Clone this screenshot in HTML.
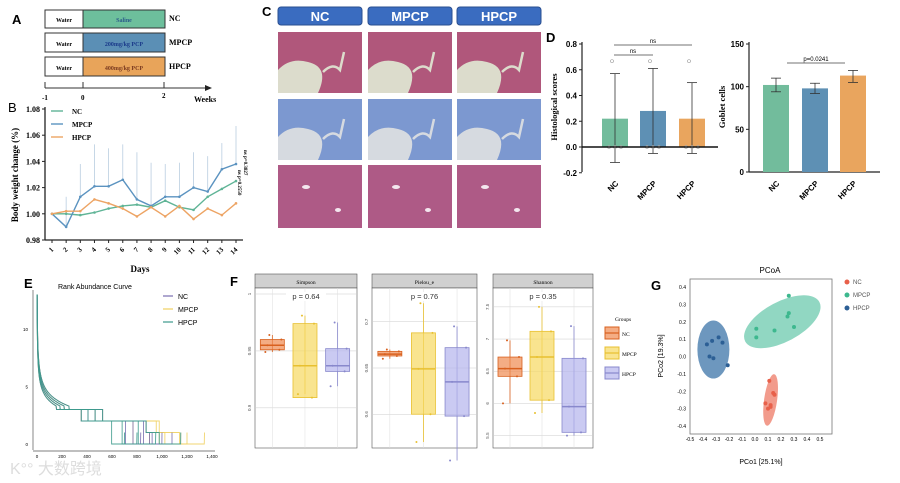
<!DOCTYPE html>
<html><head><meta charset="utf-8">
<style>
html,body{margin:0;padding:0;background:#fff;}
svg{display:block;font-family:"Liberation Sans",sans-serif;}
.serif{font-family:"Liberation Serif",serif;font-weight:bold;}
</style></head>
<body>
<svg id="fig" width="900" height="483" viewBox="0 0 900 483" xmlns="http://www.w3.org/2000/svg">
<g class="serif" font-size="8">
<text x="12" y="24" font-size="13" font-family="Liberation Sans">A</text>
<rect x="45" y="10" width="38" height="18" fill="#fff" stroke="#333"/>
<rect x="83" y="10" width="82" height="18" fill="#6dbf9c" stroke="#333"/>
<text x="64" y="22" text-anchor="middle" font-size="6">Water</text>
<text x="124" y="22" text-anchor="middle" font-size="6" fill="#2a5a8a">Saline</text>
<text x="169" y="21">NC</text>
<rect x="45" y="33" width="38" height="19" fill="#fff" stroke="#333"/>
<rect x="83" y="33" width="82" height="19" fill="#5b8fb5" stroke="#333"/>
<text x="64" y="46" text-anchor="middle" font-size="6">Water</text>
<text x="124" y="46" text-anchor="middle" font-size="6" fill="#1a3a8a">200mg/kg PCP</text>
<text x="169" y="45">MPCP</text>
<rect x="45" y="57" width="38" height="19" fill="#fff" stroke="#333"/>
<rect x="83" y="57" width="82" height="19" fill="#e8a45a" stroke="#333"/>
<text x="64" y="70" text-anchor="middle" font-size="6">Water</text>
<text x="124" y="70" text-anchor="middle" font-size="6" fill="#7a3a20">400mg/kg PCP</text>
<text x="169" y="69">HPCP</text>
<line x1="45" y1="88" x2="205" y2="88" stroke="#333"/>
<polygon points="205,85 212,88 205,91" fill="#222"/>
<line x1="45" y1="82" x2="45" y2="88" stroke="#333"/><line x1="83" y1="82" x2="83" y2="88" stroke="#333"/><line x1="164" y1="82" x2="164" y2="88" stroke="#333"/>
<text x="42" y="100" font-size="7">-1</text>
<text x="81" y="100" font-size="7">0</text>
<text x="162" y="98" font-size="7">2</text>
<text x="194" y="102" font-size="8">Weeks</text>
</g>
<g id="pb"></g>
<g id="pc"></g>
<g id="pd"></g>
<g id="pe"></g>
<g id="pf"></g>
<g id="pg"></g>
<text x="10" y="474" font-size="16" fill="#ddd" font-family="Liberation Sans, 'Noto Sans CJK SC', sans-serif">K°° 大数跨境</text>
</svg>
<script>
// ---- data ----
const days = [1,2,3,4,5,6,7,8,9,10,11,12,13,14];
const bNC = [1.000,1.000,0.999,1.001,1.004,1.006,1.007,1.005,1.010,1.005,1.003,1.013,1.019,1.025];
const bMPCP = [1.000,0.990,1.013,1.021,1.021,1.026,1.011,1.006,1.013,1.013,1.020,1.017,1.034,1.038];
const bHPCP = [1.000,1.002,1.002,1.011,1.008,1.004,0.998,1.005,0.998,1.006,0.996,1.004,0.999,1.008];
const bMPCPerr = [0,0.013,0.038,0.053,0.050,0.053,0.047,0.039,0.038,0.039,0.047,0.044,0.054,0.067];
const bTicks = [0.98,1.00,1.02,1.04,1.06,1.08];
const groups = ['NC','MPCP','HPCP'];
const histVals = [0.22,0.28,0.22];
const histLo = [-0.12,-0.05,-0.05];
const histHi = [0.57,0.61,0.50];
const histTicks = [-0.2,0.0,0.2,0.4,0.6,0.8];
const gobVals = [102,98,113];
const gobLo = [94,92,105];
const gobHi = [110,104,119];
const gobTicks = [0,50,100,150];
const rankTicksX = [0,200,400,600,800,1000,1200,1400];
const rankTicksY = [0,5,10];
const rankEndNC = [1080,1000,900,830];
const rankEndMPCP = [1340,1200,1150,900];
const rankEndHPCP = [1150,950,800,700];
const fSimpQ = [[0.949,0.951,0.955,0.960,0.964],[0.912,0.909,0.937,0.974,0.981],[0.919,0.932,0.937,0.952,0.975]];
const fPielQ = [[0.660,0.663,0.665,0.668,0.670],[0.570,0.600,0.649,0.688,0.720],[0.550,0.598,0.635,0.672,0.695]];
const fShanQ = [[6.00,6.42,6.54,6.72,6.98],[5.85,6.05,6.72,7.12,7.50],[5.50,5.55,5.95,6.70,7.20]];
const fP = ['p = 0.64','p = 0.76','p = 0.35'];
const fNames = ['Simpson','Pielou_e','Shannon'];
const fDomain = [[0.87,1.0],[0.57,0.73],[5.4,7.7]];
const fTicks = [[0.9,0.95,1.0],[0.6,0.65,0.7],[5.5,6.0,6.5,7.0,7.5]];
const pcoaNCx = [0.11,0.14,0.08,0.12,0.15,0.10,0.12];
const pcoaNCy = [-0.14,-0.21,-0.27,-0.29,-0.22,-0.30,-0.28];
const pcoaMx = [0.01,0.01,0.15,0.25,0.26,0.30,0.26];
const pcoaMy = [0.16,0.11,0.15,0.23,0.25,0.17,0.35];
const pcoaHx = [-0.37,-0.33,-0.28,-0.25,-0.35,-0.32,-0.21];
const pcoaHy = [0.07,0.09,0.11,0.08,0.00,-0.01,-0.05];
const pcoaTicks = [-0.4,-0.3,-0.2,-0.1,0.0,0.1,0.2,0.3,0.4];
const pcoaTicksX = [-0.5,-0.4,-0.3,-0.2,-0.1,0.0,0.1,0.2,0.3,0.4,0.5];

const NS='http://www.w3.org/2000/svg';
function mk(tag,a,p,txt){const e=document.createElementNS(NS,tag);for(const k in a)e.setAttribute(k,a[k]);if(txt!==undefined)e.textContent=txt;p.appendChild(e);return e;}
function nm(e,n,i){


return e;}

// ---- Panel B ----
(function(){
const g=document.getElementById('pb');
const x=d=>52+(d-1)*(236-52)/13, y=v=>240-(v-0.98)*(240-109)/0.10;
nm(mk('text',{x:8,y:112,'font-size':13},g,'B'),'panel-label-b');
nm(mk('line',{x1:45,y1:107,x2:45,y2:240,stroke:'#222','stroke-width':1.3},g),'y-axis-b');
nm(mk('line',{x1:45,y1:240,x2:243,y2:240,stroke:'#222','stroke-width':1.3},g),'x-axis-b');
bTicks.forEach(t=>{mk('line',{x1:42,y1:y(t),x2:45,y2:y(t),stroke:'#222'},g);
nm(mk('text',{x:40,y:y(t)+3,'text-anchor':'end','font-size':8,class:'serif'},g,t.toFixed(2)),'y-tick-b');});
days.forEach(d=>{mk('line',{x1:x(d),y1:240,x2:x(d),y2:243,stroke:'#222'},g);
nm(mk('text',{x:x(d)+2,y:250,'text-anchor':'end','font-size':7,class:'serif',transform:`rotate(-45 ${x(d)+2} 250)`},g,d),'x-tick-b');});
nm(mk('text',{x:140,y:272,'text-anchor':'middle','font-size':9,class:'serif'},g,'Days'),'x-axis-title-b');
nm(mk('text',{x:0,y:0,'text-anchor':'middle','font-size':9,class:'serif',transform:'translate(18 175) rotate(-90)'},g,'Body weight change (%)'),'y-axis-title-b');
days.forEach((d,i)=>{if(bMPCPerr[i]>0) nm(mk('line',{x1:x(d),y1:y(bMPCP[i]),x2:x(d),y2:y(1+bMPCPerr[i]),stroke:'#b9cde0','stroke-width':0.8},g),'error-bar-mpcp');});
const series=[[bNC,'#5fb496','NC'],[bMPCP,'#5b93c0','MPCP'],[bHPCP,'#eda464','HPCP']];
series.forEach(([v,c,n],k)=>{
nm(mk('polyline',{points:v.map((val,i)=>x(days[i])+','+y(val)).join(' '),fill:'none',stroke:c,'stroke-width':1.4},g),'line-'+n.toLowerCase());
v.forEach((val,i)=>nm(mk('circle',{cx:x(days[i]),cy:y(val),r:1.3,fill:c},g),'point-'+n.toLowerCase()));
mk('line',{x1:51,y1:111+k*13,x2:63,y2:111+k*13,stroke:c,'stroke-width':1.4},g);
nm(mk('text',{x:72,y:114+k*13,'font-size':7,class:'serif'},g,n),'legend-entry-'+n.toLowerCase());});
nm(mk('text',{x:0,y:0,'font-size':5,class:'serif',transform:'translate(244 150) rotate(90)'},g,'ns p=0.3827'),'p-value-mpcp');
nm(mk('text',{x:0,y:0,'font-size':5,class:'serif',transform:'translate(238 170) rotate(90)'},g,'ns p=0.2550'),'p-value-hpcp');
})();

// ---- Panel C ----
(function(){
const g=document.getElementById('pc');
nm(mk('text',{x:262,y:16,'font-size':13,'font-weight':'bold'},g,'C'),'panel-label-c');
const xs=[278,368,457];
const rows=[[32,93,'#a8406c','#dcdccc'],[99,160,'#6c8ccc','#d6dae0'],[165,228,'#ae5a86','#ae5a86']];
groups.forEach((n,i)=>{
nm(mk('rect',{x:xs[i],y:7,width:84,height:18,rx:3,fill:'#3a6cc0',stroke:'#2a4f90'},g),'header-'+n.toLowerCase());
nm(mk('text',{x:xs[i]+42,y:21,'text-anchor':'middle','font-size':13,'font-weight':'bold',fill:'#fff'},g,n),'header-label-'+n.toLowerCase());
rows.forEach((r,j)=>{
nm(mk('rect',{x:xs[i],y:r[0],width:84,height:r[1]-r[0],fill:r[3]},g),'micrograph-'+n.toLowerCase()+'-row'+(j+1));
if(j<2){mk('path',{d:`M${xs[i]} ${r[0]} L${xs[i]+84} ${r[0]} L${xs[i]+84} ${r[1]} L${xs[i]+40} ${r[1]} Q${xs[i]+52} ${r[0]+35} ${xs[i]+30} ${r[0]+30} Q${xs[i]+12} ${r[0]+25} ${xs[i]} ${r[0]+38} Z`,fill:r[2],opacity:0.85},g);
mk('path',{d:`M${xs[i]+45} ${r[0]+40} Q${xs[i]+55} ${r[0]+30} ${xs[i]+62} ${r[0]+38} L${xs[i]+66} ${r[0]+20}`,fill:'none',stroke:r[3],'stroke-width':2.5},g);}
else{mk('ellipse',{cx:xs[i]+28,cy:r[0]+22,rx:4,ry:2,fill:'#f3e6ee'},g);mk('ellipse',{cx:xs[i]+60,cy:r[0]+45,rx:3,ry:2,fill:'#f3e6ee'},g);}
});});
})();

// ---- Panel D ----
(function(){
const g=document.getElementById('pd');
const cols=['#72bc9c','#5e90b4','#e9a55e'];
nm(mk('text',{x:546,y:42,'font-size':13,'font-weight':'bold'},g,'D'),'panel-label-d');
const yl=v=>147-v*(147-44)/0.8;
const bx=[602,640,679];
nm(mk('line',{x1:582,y1:42,x2:582,y2:172,stroke:'#222','stroke-width':1.2},g),'y-axis-hist');
histTicks.forEach(t=>{mk('line',{x1:579,y1:yl(t),x2:582,y2:yl(t),stroke:'#222'},g);
nm(mk('text',{x:577,y:yl(t)+3,'text-anchor':'end','font-size':8,'font-weight':'bold'},g,t.toFixed(1)),'y-tick-hist');});
nm(mk('text',{x:0,y:0,'text-anchor':'middle','font-size':8.5,class:'serif',transform:'translate(557 107) rotate(-90)'},g,'Histological scores'),'y-axis-title-hist');
histVals.forEach((v,i)=>{
nm(mk('rect',{x:bx[i],y:yl(v),width:26,height:yl(0)-yl(v),fill:cols[i]},g),'bar-hist-'+groups[i].toLowerCase());
const cx=bx[i]+13;
mk('line',{x1:cx,y1:yl(histLo[i]),x2:cx,y2:yl(histHi[i]),stroke:'#333','stroke-width':0.8},g);
mk('line',{x1:cx-5,y1:yl(histHi[i]),x2:cx+5,y2:yl(histHi[i]),stroke:'#333','stroke-width':0.8},g);
mk('line',{x1:cx-5,y1:yl(histLo[i]),x2:cx+5,y2:yl(histLo[i]),stroke:'#333','stroke-width':0.8},g);
[-6,0,6].forEach(o=>mk('circle',{cx:cx+o,cy:yl(0),r:1.5,fill:'#fff',stroke:'#999','stroke-width':0.6},g));
mk('circle',{cx:cx-3,cy:yl(0.667),r:1.5,fill:'#fff',stroke:'#999','stroke-width':0.6},g);
nm(mk('text',{x:cx+4,y:184,'text-anchor':'end','font-size':8,'font-weight':'bold',transform:`rotate(-45 ${cx+4} 184)`},g,groups[i]),'x-tick-hist');});
nm(mk('line',{x1:582,y1:yl(0),x2:718,y2:yl(0),stroke:'#111','stroke-width':1.4},g),'zero-line-hist');
mk('line',{x1:614,y1:55,x2:653,y2:55,stroke:'#444','stroke-width':0.7},g);
mk('line',{x1:614,y1:45,x2:692,y2:45,stroke:'#444','stroke-width':0.7},g);
nm(mk('text',{x:633,y:53,'text-anchor':'middle','font-size':6},g,'ns'),'sig-ns-1');
nm(mk('text',{x:653,y:43,'text-anchor':'middle','font-size':6},g,'ns'),'sig-ns-2');
const yr=v=>172-v*(172-44)/150;
const rx=[763,802,840];
nm(mk('line',{x1:749,y1:42,x2:749,y2:172,stroke:'#222','stroke-width':1.2},g),'y-axis-goblet');
nm(mk('line',{x1:749,y1:172,x2:880,y2:172,stroke:'#222','stroke-width':1.2},g),'x-axis-goblet');
gobTicks.forEach(t=>{mk('line',{x1:746,y1:yr(t),x2:749,y2:yr(t),stroke:'#222'},g);
nm(mk('text',{x:744,y:yr(t)+3,'text-anchor':'end','font-size':8,'font-weight':'bold'},g,t),'y-tick-goblet');});
nm(mk('text',{x:0,y:0,'text-anchor':'middle','font-size':8.5,class:'serif',transform:'translate(725 107) rotate(-90)'},g,'Goblet cells'),'y-axis-title-goblet');
gobVals.forEach((v,i)=>{
nm(mk('rect',{x:rx[i],y:yr(v),width:26,height:yr(0)-yr(v),fill:cols[i]},g),'bar-goblet-'+groups[i].toLowerCase());
const cx=rx[i]+13;
mk('line',{x1:cx,y1:yr(gobLo[i]),x2:cx,y2:yr(gobHi[i]),stroke:'#333','stroke-width':0.8},g);
mk('line',{x1:cx-5,y1:yr(gobHi[i]),x2:cx+5,y2:yr(gobHi[i]),stroke:'#333','stroke-width':0.8},g);
mk('line',{x1:cx-5,y1:yr(gobLo[i]),x2:cx+5,y2:yr(gobLo[i]),stroke:'#333','stroke-width':0.8},g);
nm(mk('text',{x:cx+4,y:184,'text-anchor':'end','font-size':8,'font-weight':'bold',transform:`rotate(-45 ${cx+4} 184)`},g,groups[i]),'x-tick-goblet');});
mk('line',{x1:787,y1:63,x2:845,y2:63,stroke:'#444','stroke-width':0.7},g);
nm(mk('text',{x:816,y:61,'text-anchor':'middle','font-size':6},g,'p=0.0241'),'sig-p-goblet');
})();

// ---- Panel E ----
(function(){
const g=document.getElementById('pe');
const x=v=>37+v*175/1400, y=v=>444-v*11.5;
nm(mk('text',{x:24,y:288,'font-size':13,'font-weight':'bold'},g,'E'),'panel-label-e');
nm(mk('text',{x:58,y:289,'font-size':7},g,'Rank Abundance Curve'),'title-e');
nm(mk('line',{x1:33,y1:290,x2:33,y2:450,stroke:'#555','stroke-width':0.7},g),'y-axis-e');
nm(mk('line',{x1:33,y1:451,x2:215,y2:451,stroke:'#555','stroke-width':0.7},g),'x-axis-e');
rankTicksY.forEach(t=>nm(mk('text',{x:28,y:y(t)+2,'text-anchor':'end','font-size':4.5},g,t),'y-tick-e'));
rankTicksX.forEach(t=>nm(mk('text',{x:x(t),y:458,'text-anchor':'middle','font-size':4.5},g,t.toLocaleString('en-US')),'x-tick-e'));
const sets=[[rankEndMPCP,'#f0d060','MPCP'],[rankEndNC,'#7a6fb0','NC'],[rankEndHPCP,'#3c9a8c','HPCP']];
sets.forEach(([ends,c,n])=>{
ends.forEach((e,j)=>{const s=0.93+j*0.05;
let d=`M${x(1)} ${y(13)}`;let prev=13;
for(let r=3;r<=e;r+=3){let v=13*s*Math.pow(r,-0.25)-r/1200;
if(v<3.3)v=Math.max(1,Math.round(v));
if(r>e*0.85)v=0;
if(v!==prev&&prev<=3.3){d+=` L${x(r)} ${y(prev)}`;}
d+=` L${x(r)} ${y(v)}`;prev=v;}
d+=` L${x(e)} ${y(1)}`;
nm(mk('path',{d:d,fill:'none',stroke:c,'stroke-width':0.9,opacity:0.9},g),'rank-curve-'+n.toLowerCase());});});
[['NC','#7a6fb0'],['MPCP','#f0d060'],['HPCP','#3c9a8c']].forEach(([n,c],k)=>{
mk('line',{x1:163,y1:296+k*13,x2:173,y2:296+k*13,stroke:c,'stroke-width':1.2},g);
nm(mk('text',{x:178,y:299+k*13,'font-size':7},g,n),'legend-entry-e-'+n.toLowerCase());});
})();

// ---- Panel F ----
(function(){
const g=document.getElementById('pf');
nm(mk('text',{x:230,y:286,'font-size':13,'font-weight':'bold'},g,'F'),'panel-label-f');
const fx=[255,372,493], fw=[102,105,100];
const bc=[['#f08a50','#d8601e'],['#f6d860','#e8c030'],['#b4b4ec','#8888cc']];
fDomain.forEach((dom,f)=>{
const x0=fx[f],w=fw[f],top=288,bot=448;
const y=v=>bot-6-(v-dom[0])/(dom[1]-dom[0])*(bot-top-12);
nm(mk('rect',{x:x0,y:274,width:w,height:14,fill:'#d0d0d0',stroke:'#555','stroke-width':0.6},g),'strip-'+fNames[f].toLowerCase());
nm(mk('text',{x:x0+w/2,y:284,'text-anchor':'middle','font-size':5.5,'font-family':'Liberation Serif'},g,fNames[f]),'strip-label-'+fNames[f].toLowerCase());
nm(mk('rect',{x:x0,y:top,width:w,height:bot-top,fill:'#fff',stroke:'#555','stroke-width':0.6},g),'facet-panel-'+fNames[f].toLowerCase());
fTicks[f].forEach(t=>{mk('line',{x1:x0,y1:y(t),x2:x0+w,y2:y(t),stroke:'#ccc','stroke-width':0.5},g);
nm(mk('text',{x:0,y:0,'text-anchor':'middle','font-size':4.5,fill:'#555',transform:`translate(${x0-4} ${y(t)}) rotate(-90)`},g,t),'y-tick-f');});
[0,1,2].forEach(k=>{const cx=x0+w*(0.17+k*0.32);
mk('line',{x1:cx,y1:top,x2:cx,y2:bot,stroke:'#ddd','stroke-width':0.5},g);
const q=[fSimpQ,fPielQ,fShanQ][f][k];
mk('line',{x1:cx,y1:y(q[0]),x2:cx,y2:y(q[4]),stroke:bc[k][1],'stroke-width':0.8},g);
nm(mk('rect',{x:cx-12,y:y(q[3]),width:24,height:y(q[1])-y(q[3]),fill:bc[k][0],'fill-opacity':0.7,stroke:bc[k][1],'stroke-width':0.8},g),'box-'+fNames[f].toLowerCase()+'-'+groups[k].toLowerCase());
mk('line',{x1:cx-12,y1:y(q[2]),x2:cx+12,y2:y(q[2]),stroke:bc[k][1],'stroke-width':1.5},g);
q.forEach((v,m)=>mk('circle',{cx:cx+(m%2?6:-7)+m,cy:y(v),r:1,fill:bc[k][1]},g));});
mk('rect',{x:x0+w/2-20,y:292,width:40,height:9,fill:'#fff'},g);
nm(mk('text',{x:x0+w/2,y:299,'text-anchor':'middle','font-size':7.5,fill:'#333'},g,fP[f]),'p-value-'+fNames[f].toLowerCase());});
nm(mk('text',{x:615,y:321,'font-size':5.5,'font-family':'Liberation Serif'},g,'Groups'),'legend-title-f');
groups.forEach((n,k)=>{
nm(mk('rect',{x:605,y:327+k*20,width:14,height:12,fill:bc[k][0],'fill-opacity':0.7,stroke:bc[k][1]},g),'legend-key-f-'+n.toLowerCase());
mk('line',{x1:605,y1:333+k*20,x2:619,y2:333+k*20,stroke:bc[k][1],'stroke-width':1.2},g);
nm(mk('text',{x:622,y:336+k*20,'font-size':5.5,'font-family':'Liberation Serif'},g,n),'legend-entry-f-'+n.toLowerCase());});
})();

// ---- Panel G ----
(function(){
const g=document.getElementById('pg');
const x=v=>755+v*130, y=v=>356.5-v*173.75;
nm(mk('text',{x:651,y:290,'font-size':13,'font-weight':'bold'},g,'G'),'panel-label-g');
nm(mk('text',{x:770,y:273,'text-anchor':'middle','font-size':8},g,'PCoA'),'title-g');
nm(mk('rect',{x:690,y:279,width:142,height:155,fill:'#fff',stroke:'#777','stroke-width':0.8},g),'plot-frame-g');
pcoaTicks.forEach(t=>nm(mk('text',{x:686,y:y(t)+2,'text-anchor':'end','font-size':5},g,t.toFixed(1)),'y-tick-g'));
pcoaTicksX.forEach(t=>nm(mk('text',{x:x(t),y:441,'text-anchor':'middle','font-size':5},g,t.toFixed(1)),'x-tick-g'));
nm(mk('text',{x:761,y:464,'text-anchor':'middle','font-size':7},g,'PCo1 [25.1%]'),'x-axis-title-g');
nm(mk('text',{x:0,y:0,'text-anchor':'middle','font-size':7,transform:'translate(663 356) rotate(-90)'},g,'PCo2 [19.3%]'),'y-axis-title-g');
nm(mk('ellipse',{cx:x(0.21),cy:y(0.20),rx:42,ry:20,transform:`rotate(-28 ${x(0.21)} ${y(0.20)})`,fill:'#6ccaad',opacity:0.75},g),'ellipse-mpcp');
nm(mk('ellipse',{cx:x(-0.32),cy:y(0.04),rx:16,ry:29,fill:'#3c74a8',opacity:0.75},g),'ellipse-hpcp');
nm(mk('ellipse',{cx:x(0.12),cy:y(-0.25),rx:6.5,ry:26,transform:`rotate(8 ${x(0.12)} ${y(-0.25)})`,fill:'#ee7a66',opacity:0.75},g),'ellipse-nc');
const pts=[[pcoaNCx,pcoaNCy,'#e8604a','NC'],[pcoaMx,pcoaMy,'#3db88e','MPCP'],[pcoaHx,pcoaHy,'#2c5f95','HPCP']];
pts.forEach(([xs,ys,c,n],k)=>{
xs.forEach((v,i)=>nm(mk('circle',{cx:x(v),cy:y(ys[i]),r:2,fill:c},g),'point-'+n.toLowerCase()));
nm(mk('circle',{cx:847,cy:282+k*13,r:2.5,fill:c},g),'legend-key-g-'+n.toLowerCase());
nm(mk('text',{x:853,y:284+k*13,'font-size':6,fill:'#555'},g,n),'legend-entry-g-'+n.toLowerCase());});
})();
</script>
</body></html>
